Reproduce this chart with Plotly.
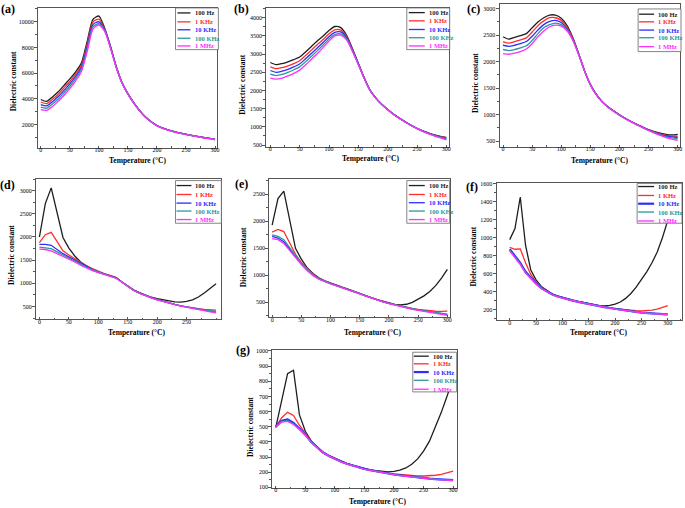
import plotly.graph_objects as go

W, H = 685, 508
def fx(p): return p / W
def fy(p): return 1 - p / H

temps = [0, 10, 20, 30, 40, 50, 60, 70, 80, 90, 100, 110, 120, 130, 140, 150,
         160, 170, 180, 190, 200, 210, 220, 230, 240, 250, 260, 270, 280, 290, 300]
freq_labels = ["100 Hz", "1 KHz", "10 KHz", "100 KHz", "1 MHz"]
line_colors = ["#1e1e1e", "#ff2d2d", "#2d2dff", "#2a9999", "#ff2dff"]

# ---- panel (a)
a_100Hz = [3950, 3800, 4150, 4550, 5050, 5550, 6100, 6800, 8500, 10200, 10450, 9500, 8100, 6500, 5250, 4400, 3700, 3100, 2600, 2220, 1920, 1720, 1570, 1440, 1330, 1240, 1150, 1070, 990, 920, 860]
a_1KHz = [3750, 3620, 3960, 4360, 4850, 5350, 5920, 6620, 8300, 10000, 10200, 9420, 8060, 6480, 5240, 4390, 3690, 3090, 2590, 2215, 1915, 1715, 1565, 1435, 1325, 1235, 1145, 1065, 985, 915, 850]
a_10KHz = [3550, 3450, 3780, 4180, 4660, 5170, 5750, 6460, 8100, 9800, 10000, 9380, 8020, 6460, 5230, 4380, 3680, 3085, 2585, 2210, 1910, 1710, 1560, 1430, 1320, 1230, 1140, 1060, 980, 910, 840]
a_100KHz = [3350, 3270, 3590, 3990, 4470, 4980, 5570, 6300, 7900, 9620, 9850, 9320, 7990, 6440, 5220, 4370, 3675, 3080, 2580, 2205, 1905, 1705, 1555, 1425, 1315, 1225, 1135, 1055, 975, 900, 830]
a_1MHz = [3150, 3100, 3400, 3800, 4280, 4790, 5400, 6130, 7700, 9450, 9750, 9250, 7950, 6420, 5210, 4360, 3670, 3075, 2575, 2200, 1900, 1700, 1550, 1420, 1310, 1220, 1130, 1045, 965, 890, 810]

# ---- panel (b)
b_100Hz = [2770, 2710, 2740, 2790, 2850, 2920, 3060, 3210, 3360, 3500, 3650, 3760, 3730, 3520, 3150, 2750, 2350, 2010, 1790, 1620, 1480, 1350, 1240, 1140, 1045, 960, 890, 830, 780, 740, 710]
b_1KHz = [2650, 2600, 2630, 2680, 2740, 2820, 2960, 3110, 3260, 3400, 3560, 3670, 3660, 3480, 3130, 2740, 2345, 2008, 1788, 1618, 1478, 1348, 1238, 1138, 1043, 958, 886, 824, 772, 730, 695]
b_10KHz = [2550, 2500, 2530, 2580, 2650, 2730, 2870, 3020, 3170, 3320, 3480, 3600, 3610, 3450, 3110, 2730, 2340, 2005, 1786, 1616, 1476, 1346, 1236, 1136, 1041, 955, 882, 818, 764, 720, 675]
b_100KHz = [2450, 2410, 2440, 2500, 2570, 2650, 2790, 2940, 3090, 3250, 3420, 3540, 3560, 3420, 3090, 2720, 2335, 2002, 1784, 1614, 1474, 1344, 1234, 1134, 1039, 952, 878, 812, 756, 708, 660]
b_1MHz = [2340, 2310, 2340, 2400, 2470, 2560, 2700, 2860, 3010, 3180, 3360, 3500, 3520, 3390, 3070, 2710, 2330, 2000, 1782, 1612, 1472, 1342, 1232, 1132, 1037, 950, 874, 806, 748, 695, 640]

# ---- panel (c)
c_100Hz = [2470, 2425, 2460, 2490, 2530, 2640, 2750, 2830, 2880, 2880, 2820, 2680, 2450, 2150, 1830, 1570, 1385, 1250, 1150, 1070, 995, 930, 870, 815, 765, 715, 680, 650, 625, 615, 625]
c_1KHz = [2380, 2350, 2380, 2410, 2450, 2560, 2680, 2770, 2830, 2830, 2780, 2650, 2440, 2145, 1828, 1568, 1383, 1248, 1148, 1068, 993, 928, 868, 812, 760, 710, 670, 635, 608, 595, 590]
c_10KHz = [2310, 2290, 2310, 2340, 2380, 2480, 2600, 2700, 2760, 2780, 2740, 2620, 2420, 2140, 1826, 1566, 1381, 1246, 1146, 1066, 991, 926, 866, 810, 757, 706, 663, 625, 595, 578, 565]
c_100KHz = [2230, 2210, 2230, 2260, 2300, 2400, 2530, 2640, 2700, 2730, 2700, 2600, 2410, 2135, 1824, 1564, 1379, 1244, 1144, 1064, 989, 924, 864, 808, 754, 703, 657, 615, 580, 558, 540]
c_1MHz = [2150, 2140, 2160, 2190, 2240, 2340, 2470, 2580, 2660, 2690, 2670, 2580, 2400, 2130, 1822, 1562, 1377, 1242, 1142, 1062, 987, 922, 862, 806, 752, 700, 650, 605, 565, 535, 515]

# ---- panel (d)
d_100Hz = [2000, 2720, 3060, 2550, 1990, 1760, 1590, 1460, 1370, 1290, 1235, 1195, 1160, 1125, 1030, 935, 860, 800, 745, 700, 668, 640, 615, 598, 595, 610, 645, 705, 790, 885, 990]
d_1KHz = [1880, 2050, 2100, 1900, 1700, 1610, 1530, 1450, 1380, 1320, 1260, 1210, 1170, 1130, 1030, 930, 850, 790, 735, 690, 650, 610, 575, 545, 515, 490, 470, 452, 438, 428, 420]
d_10KHz = [1840, 1840, 1820, 1720, 1640, 1570, 1500, 1430, 1360, 1300, 1250, 1200, 1160, 1120, 1030, 930, 850, 790, 735, 690, 650, 610, 575, 545, 515, 488, 463, 440, 420, 400, 385]
d_100KHz = [1780, 1770, 1750, 1680, 1610, 1550, 1480, 1410, 1345, 1290, 1240, 1195, 1155, 1115, 1028, 928, 848, 788, 733, 688, 648, 608, 573, 543, 513, 487, 463, 442, 423, 408, 395]
d_1MHz = [1740, 1730, 1700, 1640, 1580, 1530, 1460, 1390, 1330, 1275, 1230, 1190, 1150, 1110, 1025, 925, 845, 785, 730, 685, 645, 605, 570, 538, 508, 480, 455, 430, 405, 385, 365]

# ---- panel (e)
e_100Hz = [1930, 2420, 2560, 2040, 1500, 1300, 1140, 1035, 955, 900, 857, 822, 782, 746, 704, 664, 624, 586, 551, 520, 490, 462, 455, 465, 500, 555, 620, 700, 810, 950, 1110]
e_1KHz = [1800, 1850, 1810, 1600, 1390, 1240, 1120, 1020, 945, 895, 850, 812, 778, 742, 702, 662, 622, 582, 547, 512, 482, 456, 432, 410, 390, 372, 356, 345, 336, 334, 338]
e_10KHz = [1720, 1690, 1620, 1480, 1340, 1210, 1100, 1005, 935, 885, 845, 810, 775, 740, 700, 660, 620, 580, 545, 510, 480, 452, 426, 402, 380, 360, 340, 322, 305, 290, 275]
e_100KHz = [1750, 1720, 1660, 1510, 1360, 1225, 1110, 1010, 938, 887, 847, 811, 776, 741, 701, 661, 621, 581, 546, 511, 481, 453, 428, 404, 382, 362, 343, 326, 309, 294, 280]
e_1MHz = [1680, 1660, 1590, 1460, 1320, 1200, 1090, 995, 928, 878, 840, 806, 772, 738, 698, 658, 618, 578, 542, 507, 476, 448, 420, 395, 372, 350, 330, 310, 293, 275, 260]

# ---- panel (f)
f_100Hz = [977, 1100, 1450, 915, 640, 530, 457, 413, 376, 354, 336, 321, 306, 292, 280, 266, 255, 245, 243, 248, 262, 285, 325, 380, 450, 530, 620, 720, 840, 1000, 1190]
f_1KHz = [890, 870, 875, 720, 590, 510, 452, 410, 375, 350, 330, 315, 300, 288, 275, 263, 251, 240, 230, 220, 212, 205, 198, 192, 188, 186, 188, 194, 205, 222, 245]
f_10KHz = [870, 800, 720, 620, 550, 490, 440, 402, 372, 348, 330, 314, 300, 287, 274, 262, 250, 239, 228, 218, 208, 199, 190, 182, 175, 168, 162, 157, 153, 150, 148]
f_100KHz = [860, 790, 710, 612, 545, 487, 438, 400, 370, 347, 329, 313, 299, 286, 273, 261, 249, 238, 227, 217, 207, 198, 189, 181, 174, 167, 161, 156, 152, 149, 147]
f_1MHz = [850, 775, 700, 605, 540, 483, 435, 398, 368, 345, 328, 312, 298, 285, 272, 260, 248, 237, 226, 216, 206, 197, 188, 180, 173, 166, 160, 155, 151, 148, 145]

# ---- panel (g)
g_100Hz = [495, 670, 850, 873, 580, 470, 407, 363, 330, 309, 291, 273, 258, 245, 234, 225, 216, 210, 205, 203, 206, 214, 228, 252, 288, 340, 405, 495, 595, 705, 820]
g_1KHz = [500, 560, 595, 575, 510, 458, 405, 365, 333, 310, 290, 273, 258, 245, 234, 224, 215, 207, 200, 194, 189, 185, 181, 178, 176, 175, 176, 180, 186, 195, 207]
g_10KHz = [500, 540, 548, 525, 488, 448, 400, 362, 330, 307, 288, 271, 256, 243, 232, 222, 213, 205, 198, 191, 185, 180, 175, 170, 166, 162, 158, 155, 152, 150, 148]
g_100KHz = [500, 535, 540, 520, 485, 446, 398, 361, 329, 306, 287, 270, 255, 242, 231, 221, 212, 204, 197, 190, 184, 179, 174, 169, 165, 161, 157, 154, 151, 149, 147]
g_1MHz = [500, 530, 535, 515, 482, 444, 397, 360, 329, 306, 287, 270, 255, 242, 231, 221, 212, 204, 197, 190, 184, 178, 173, 168, 164, 160, 156, 153, 150, 147, 145]

x_ticks_full = [0, 50, 100, 150, 200, 250, 300]
x_ticks_d = [0, 50, 100, 150, 200, 250]
y_ticks_a = [2000, 4000, 6000, 8000, 10000]
y_ticks_b = [500, 1000, 1500, 2000, 2500, 3000, 3500, 4000]
y_ticks_c = [500, 1000, 1500, 2000, 2500, 3000]
y_ticks_d = [500, 1000, 1500, 2000, 2500, 3000]
y_ticks_e = [500, 1000, 1500, 2000, 2500]
y_ticks_f = [200, 400, 600, 800, 1000, 1200, 1400, 1600]
y_ticks_g = [100, 200, 300, 400, 500, 600, 700, 800, 900, 1000]

panel_tags = ["(a)", "(b)", "(c)", "(d)", "(e)", "(f)", "(g)"]
panel_series = [
    [a_100Hz, a_1KHz, a_10KHz, a_100KHz, a_1MHz],
    [b_100Hz, b_1KHz, b_10KHz, b_100KHz, b_1MHz],
    [c_100Hz, c_1KHz, c_10KHz, c_100KHz, c_1MHz],
    [d_100Hz, d_1KHz, d_10KHz, d_100KHz, d_1MHz],
    [e_100Hz, e_1KHz, e_10KHz, e_100KHz, e_1MHz],
    [f_100Hz, f_1KHz, f_10KHz, f_100KHz, f_1MHz],
    [g_100Hz, g_1KHz, g_10KHz, g_100KHz, g_1MHz],
]
panel_xticks = [x_ticks_full, x_ticks_full, x_ticks_full, x_ticks_d, x_ticks_full, x_ticks_full, x_ticks_full]
panel_yticks = [y_ticks_a, y_ticks_b, y_ticks_c, y_ticks_d, y_ticks_e, y_ticks_f, y_ticks_g]

# ---- layout constants (pixels): plot box, ranges, legend, labels
boxes = [(38, 218, 6, 147), (267, 450, 6, 146), (501, 682, 2, 146),
         (36, 222, 178, 320), (270, 451, 178, 318), (498, 684, 182, 321),
         (273, 458, 351, 490)]
xranges = [[-5, 304], [-7, 304], [-6, 304], [-6, 309], [-5, 304], [-25, 327], [-6, 306]]
yranges = [[180, 11080], [450, 4270], [390, 3090], [220, 3260], [220, 2790], [80, 1610], [95, 1005]]
y_minor = [1000, 250, 250, 250, 250, 100, 50]
smooth = [True, True, True, False, False, False, False]
legend_boxes = [(176, 219, 6, 48), (408, 451, 6, 48), (640, 683, 7, 50),
                (176, 222, 180, 223), (408, 451, 180, 223), (639, 684, 183, 223),
                (414, 458, 353, 393)]
legend_sw = [(178, 191, 194), (410, 426, 428), (641, 656, 658), (177, 192, 194),
             (410, 426, 428), (640, 656, 658), (415, 430, 432)]
legend_ys = [[11, 20, 28, 36.5, 44.3], [10.7, 19, 27.7, 36, 44.3], [12.3, 20, 28.3, 36, 45],
             [185, 194, 202.7, 210.7, 219.3], [185, 194, 202.3, 210.7, 219.3],
             [186, 195, 203.3, 211.7, 220.7], [357, 364.7, 373, 381.3, 390.3]]
tag_pos = [(8, 7), (242, 7), (475, 7), (8, 184), (242, 183), (473, 186), (244, 351)]
xtitle_pos = [(138, 159.5), (372, 157.5), (601, 159.5), (137, 333.5), (374, 333.5), (600, 333.5), (379, 503)]
ytitle_pos = [(13, 80), (243, 83), (477, 82), (12, 255), (245, 257), (475, 257), (251, 428)]

SERIF = "Liberation Serif, Times New Roman, serif"
AX = "#555555"

fig = go.Figure()
layout = dict(width=W, height=H, autosize=False,
              margin=dict(l=0, r=0, t=0, b=0, pad=0),
              paper_bgcolor="white", plot_bgcolor="white",
              showlegend=False, font=dict(family=SERIF, color="black"))
shapes, annotations = [], []

for i in range(7):
    n = "" if i == 0 else str(i + 1)
    x0, x1, y0, y1 = boxes[i]
    for k, vals in enumerate(panel_series[i]):
        w = 2.2 if (k == 2 and i >= 5) else 1.3
        fig.add_trace(go.Scatter(
            x=temps, y=vals, xaxis="x" + n, yaxis="y" + n, mode="lines",
            name=freq_labels[k],
            line=dict(color=line_colors[k], width=w,
                      shape="spline" if smooth[i] else "linear",
                      smoothing=0.7 if smooth[i] else None)))
    common = dict(showline=True, mirror=True, linecolor=AX, linewidth=1,
                  tickwidth=1, tickcolor=AX, showgrid=False, zeroline=False,
                  tickfont=dict(family=SERIF, size=6, color="black"))
    layout["xaxis" + n] = dict(domain=[fx(x0), fx(x1)], anchor="y" + n,
                               range=xranges[i], tickvals=panel_xticks[i],
                               ticks="inside", ticklen=2, ticklabelstandoff=-4,
                               minor=dict(ticks="inside", ticklen=1.5, dtick=25, tick0=0,
                                          tickcolor=AX, showgrid=False),
                               **common)
    layout["yaxis" + n] = dict(domain=[fy(y1), fy(y0)], anchor="x" + n,
                               range=yranges[i], tickvals=panel_yticks[i],
                               tickformat="d", ticks="outside", ticklen=3,
                               ticklabelstandoff=-1,
                               minor=dict(ticks="outside", ticklen=2, dtick=y_minor[i], tick0=0,
                                          tickcolor=AX, showgrid=False),
                               **common)
    # panel tag
    annotations.append(dict(x=fx(tag_pos[i][0]), y=fy(tag_pos[i][1]), xref="paper", yref="paper",
                            text="<b>" + panel_tags[i] + "</b>", showarrow=False,
                            xanchor="center", yanchor="middle",
                            font=dict(family=SERIF, size=12, color="black")))
    annotations.append(dict(x=fx(xtitle_pos[i][0]), y=fy(xtitle_pos[i][1]), xref="paper", yref="paper",
                            text="<b>Temperature (°C)</b>", showarrow=False,
                            xanchor="center", yanchor="middle",
                            font=dict(family=SERIF, size=7.5, color="black")))
    annotations.append(dict(x=fx(ytitle_pos[i][0]), y=fy(ytitle_pos[i][1]), xref="paper", yref="paper",
                            text="<b>Dielectric constant</b>", showarrow=False, textangle=-90,
                            xanchor="center", yanchor="middle",
                            font=dict(family=SERIF, size=7.5, color="black")))
    # legend
    lx0, lx1, ly0, ly1 = legend_boxes[i]
    shapes.append(dict(type="rect", xref="paper", yref="paper", layer="above",
                       x0=fx(lx0), x1=fx(lx1), y0=fy(ly1), y1=fy(ly0),
                       line=dict(color="#666666", width=0.8), fillcolor="white"))
    sx0, sx1, tx = legend_sw[i]
    for k in range(5):
        yy = legend_ys[i][k]
        w = 2.2 if (k == 2 and i >= 5) else 1.3
        shapes.append(dict(type="line", xref="paper", yref="paper", layer="above",
                           x0=fx(sx0), x1=fx(sx1), y0=fy(yy), y1=fy(yy),
                           line=dict(color=line_colors[k], width=w)))
        annotations.append(dict(x=fx(tx), y=fy(yy), xref="paper", yref="paper",
                                text="<b>" + freq_labels[k] + "</b>", showarrow=False,
                                xanchor="left", yanchor="middle",
                                font=dict(family=SERIF, size=6.5, color=line_colors[k])))

layout["shapes"] = shapes
layout["annotations"] = annotations
fig.update_layout(**layout)

fig.write_html("out.html", config={"displayModeBar": False},
               post_script="document.body.style.margin='0';document.body.style.overflow='hidden';")
